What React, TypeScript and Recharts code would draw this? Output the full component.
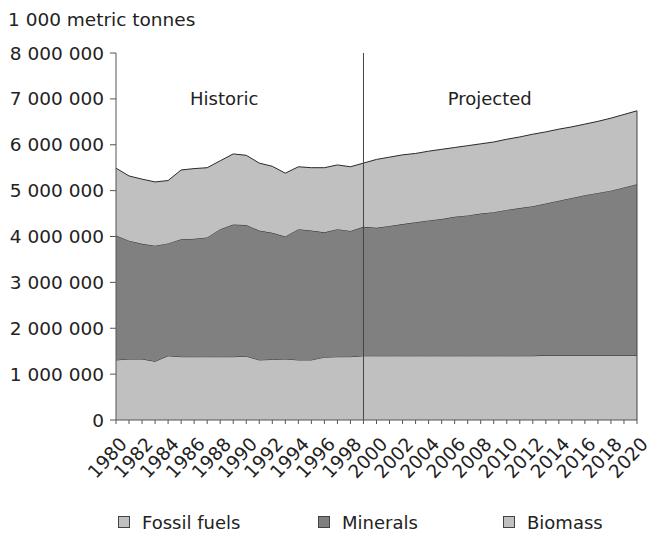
import { AreaChart, Area, XAxis, YAxis, Legend, ReferenceLine, ReferenceDot } from 'recharts'

// thousand metric tonnes
const years = [
  1980, 1981, 1982, 1983, 1984, 1985, 1986, 1987, 1988, 1989,
  1990, 1991, 1992, 1993, 1994, 1995, 1996, 1997, 1998, 1999,
  2000, 2001, 2002, 2003, 2004, 2005, 2006, 2007, 2008, 2009,
  2010, 2011, 2012, 2013, 2014, 2015, 2016, 2017, 2018, 2019, 2020,
]

const fossilFuels = [
  1310000, 1330000, 1330000, 1280000, 1400000, 1380000, 1380000, 1380000, 1380000, 1380000,
  1390000, 1310000, 1320000, 1330000, 1310000, 1310000, 1370000, 1380000, 1380000, 1400000,
  1400000, 1400000, 1400000, 1400000, 1400000, 1400000, 1400000, 1400000, 1400000, 1400000,
  1400000, 1400000, 1400000, 1410000, 1410000, 1410000, 1410000, 1410000, 1410000, 1410000, 1410000,
]

const minerals = [
  2710000, 2580000, 2510000, 2520000, 2450000, 2560000, 2570000, 2600000, 2780000, 2880000,
  2860000, 2820000, 2760000, 2670000, 2850000, 2820000, 2720000, 2780000, 2740000, 2810000,
  2790000, 2830000, 2870000, 2910000, 2950000, 2980000, 3030000, 3060000, 3100000, 3130000,
  3180000, 3220000, 3260000, 3310000, 3370000, 3430000, 3490000, 3540000, 3590000, 3660000, 3730000,
]

const biomass = [
  1470000, 1410000, 1410000, 1390000, 1370000, 1510000, 1530000, 1520000, 1490000, 1540000,
  1520000, 1470000, 1450000, 1380000, 1360000, 1370000, 1410000, 1400000, 1400000, 1390000,
  1490000, 1500000, 1510000, 1500000, 1510000, 1520000, 1510000, 1520000, 1520000, 1530000,
  1540000, 1550000, 1570000, 1560000, 1560000, 1550000, 1550000, 1560000, 1580000, 1590000, 1600000,
]

const yTicks = [0, 1000000, 2000000, 3000000, 4000000, 5000000, 6000000, 7000000, 8000000]

const FONT = 'DejaVu Sans, Verdana, sans-serif'
const LIGHT = '#c0c0c0'
const DARK = '#808080'
const TEXT = '#222'
const EDGE = '#2a2a2a'

const data = years.map((year, i) => ({
  year,
  fossil: fossilFuels[i],
  minerals: minerals[i],
  biomass: biomass[i],
}))

const last = years.length - 1
const lastTotal = fossilFuels[last] + minerals[last] + biomass[last]

const fmt = (v: number) => String(v).replace(/\B(?=(\d{3})+(?!\d))/g, ' ')

function YearTick(props: any) {
  const { x, y, payload } = props
  if (payload.value % 2 !== 0) return <g />
  const ax = x + 12
  const ay = y + 19
  return (
    <text
      x={ax}
      y={ay}
      textAnchor="end"
      transform={`rotate(-47, ${ax}, ${ay})`}
      fontSize={18.5}
      fontFamily={FONT}
      fill={TEXT}
    >
      {payload.value}
    </text>
  )
}

const legendItems = [
  { name: 'Fossil fuels', color: LIGHT, left: 118 },
  { name: 'Minerals', color: DARK, left: 318 },
  { name: 'Biomass', color: LIGHT, left: 503 },
]

function LegendBox() {
  return (
    <div style={{ position: 'relative', height: 24, fontFamily: FONT, fontSize: 18, color: TEXT }}>
      {legendItems.map((it) => (
        <div
          key={it.name}
          style={{ position: 'absolute', left: it.left, top: 0, height: 24, display: 'flex', alignItems: 'center', whiteSpace: 'nowrap' }}
        >
          <span
            style={{
              display: 'inline-block',
              width: 12,
              height: 12,
              boxSizing: 'border-box',
              background: it.color,
              border: '1px solid #444',
              marginRight: 12,
            }}
          />
          {it.name}
        </div>
      ))}
    </div>
  )
}

export default function App() {
  return (
    <div style={{ position: 'absolute', left: 0, top: 0, width: 654, height: 534, background: '#fff' }}>
      <AreaChart width={654} height={534} data={data} margin={{ top: 53, right: 17, left: 0, bottom: 0 }}>
        <text x={8} y={26} fontSize={18.5} fontFamily={FONT} fill={TEXT}>
          1 000 metric tonnes
        </text>
        <XAxis
          dataKey="year"
          interval={0}
          height={90}
          tickSize={4}
          tick={<YearTick />}
          axisLine={{ stroke: '#555' }}
          tickLine={{ stroke: '#555' }}
        />
        <YAxis
          width={116}
          domain={[0, 8000000]}
          ticks={yTicks}
          tickFormatter={fmt}
          tickSize={6}
          tickMargin={6}
          tick={{ fontSize: 18.5, fontFamily: FONT, fill: TEXT }}
          axisLine={{ stroke: '#555' }}
          tickLine={{ stroke: '#555' }}
        />
        <Area type="linear" dataKey="fossil" name="Fossil fuels" stackId="1" stroke={EDGE} strokeWidth={1} fill={LIGHT} fillOpacity={1} dot={false} activeDot={false} isAnimationActive={false} />
        <Area type="linear" dataKey="minerals" name="Minerals" stackId="1" stroke={EDGE} strokeWidth={1} fill={DARK} fillOpacity={1} dot={false} activeDot={false} isAnimationActive={false} />
        <Area type="linear" dataKey="biomass" name="Biomass" stackId="1" stroke={EDGE} strokeWidth={1} fill={LIGHT} fillOpacity={1} dot={false} activeDot={false} isAnimationActive={false} />
        <ReferenceLine x={1999} stroke="#444" strokeWidth={1} />
        <ReferenceLine segment={[{ x: 2020, y: 0 }, { x: 2020, y: lastTotal }]} stroke="#444" strokeWidth={1} />
        <ReferenceDot x={1988} y={7000000} r={0} fill="none" stroke="none" label={{ value: 'Historic', position: 'center', fontSize: 18, fontFamily: FONT, fill: TEXT, dx: 4 }} />
        <ReferenceDot x={2009} y={7000000} r={0} fill="none" stroke="none" label={{ value: 'Projected', position: 'center', fontSize: 18, fontFamily: FONT, fill: TEXT, dx: -4 }} />
        <Legend verticalAlign="bottom" content={<LegendBox />} wrapperStyle={{ left: 0, width: 654, height: 24, bottom: 0 }} />
      </AreaChart>
    </div>
  )
}
